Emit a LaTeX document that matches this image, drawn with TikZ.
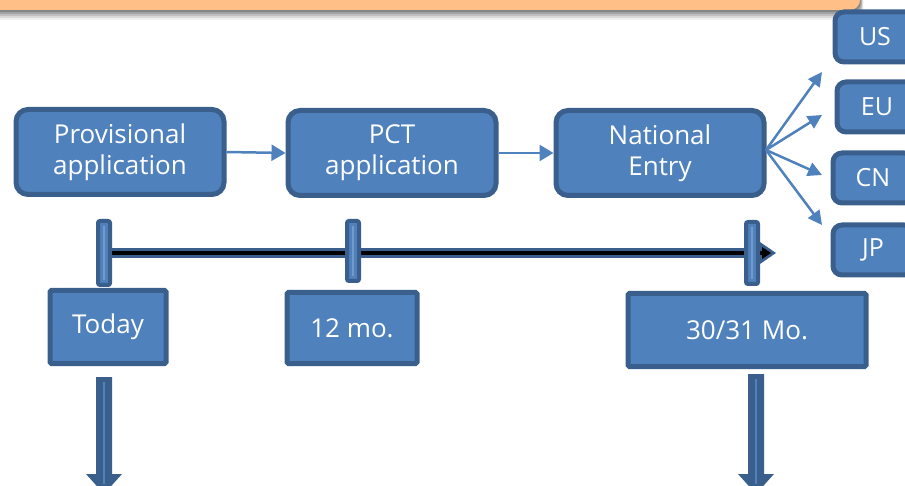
\documentclass[tikz,border=0pt]{standalone}
\usepackage{fontspec}
\setmainfont{Open Sans}
\usetikzlibrary{arrows.meta}
\definecolor{boxfill}{HTML}{4F81BD}
\definecolor{boxline}{HTML}{3A5F8C}
\definecolor{banner}{HTML}{FFBF87}
\tikzset{
  stagebox/.style={fill=boxfill,draw=boxline,line width=5pt,rounded corners=12pt,
    minimum width=208pt,minimum height=85pt,text=white,align=center,font=\fontsize{26}{31}\selectfont},
  countrybox/.style={fill=boxfill,draw=boxline,line width=5pt,rounded corners=9pt,
    minimum width=80pt,minimum height=50pt,text=white,font=\fontsize{25}{28}\selectfont},
  datebox/.style={fill=boxfill,draw=boxline,line width=5pt,rounded corners=1.5pt,
    text=white,font=\fontsize{26}{28}\selectfont},
  flow/.style={draw=boxfill,line width=2.5pt,-{Triangle[length=14pt,width=16pt]}},
  fan/.style={draw=boxfill,line width=2.5pt,-{Triangle[length=14pt,width=14pt]}},
  tick/.style={fill=boxfill,draw=boxline,line width=4pt,rounded corners=2pt},
}
\begin{document}
\begin{tikzpicture}[x=1pt,y=-1pt]
  \useasboundingbox (0,0) rectangle (905,486);
  % banner with shadow
  \foreach \s/\o in {10/0.06,8/0.1,6/0.12,4/0.15,2/0.18}
    \fill[black,opacity=\o,rounded corners=10pt] (-20,-30) rectangle (860+\s/3,10+\s);
  \fill[banner,rounded corners=10pt] (-20,-30) rectangle (860,10);
  % stages
  \node[stagebox] (prov) at (120,152) {Provisional\\application};
  \node[stagebox] (pct) at (392,153) {PCT\\application};
  \node[stagebox] (nat) at (660,153) {National\\Entry};
  \draw[flow] (prov.east) -- (pct.west);
  \draw[flow] (pct.east) -- (nat.west);
  % countries
  \node[countrybox] (us) at (875,37) {US};
  \node[countrybox] (eu) at (877,107) {EU};
  \node[countrybox] (cn) at (873,178) {CN};
  \node[countrybox] (jp) at (873,250) {JP};
  \coordinate (hub) at (766,150);
  \coordinate (tus) at (822,72);
  \coordinate (teu) at (822,115);
  \coordinate (tcn) at (822,175);
  \coordinate (tjp) at (822,225);
  \foreach \t in {tus,teu,tcn,tjp}
    \draw[fan] (hub) -- (\t);
  % timeline
  \coordinate (tl0) at (107,253);
  \coordinate (tl1) at (776,253);
  \draw[boxline,line width=10pt] (tl0) -- (760,253);
  \fill[boxline] (757,240) -- (tl1) -- (757,266) -- cycle;
  \draw[black,line width=4.5pt] (tl0) -- (766,253);
  \fill[black] (762,247) -- (771,253) -- (762,259) -- cycle;
  \foreach \x/\a/\b in {104/221/285,353/221/281,752/222/284} {
    \draw[tick] (\x-6,\a) rectangle (\x+6,\b);
    \draw[boxfill!80!white,line width=1.2pt] (\x,\a+5) -- (\x,\b-5);
  }
  % dates
  \node[datebox,minimum width=116pt,minimum height=73pt] (today) at (108,327) {Today};
  \node[datebox,minimum width=130pt,minimum height=71pt] (mo12) at (352,328) {12 mo.};
  \node[datebox,minimum width=238pt,minimum height=73pt] (mo30) at (747,330) {30/31 Mo.};
  % down arrows
  \foreach \x/\y/\n in {104/377/d1,756/374/d2} {
    \fill[boxline] (\x-8,\y) -- (\x+8,\y) -- (\x+8,474) -- (\x+18,474) -- (\x,494)
      -- (\x-18,474) -- (\x-8,474) -- cycle;
    \draw[boxfill,line width=2.5pt] (\x,\y+5) -- (\x,484);
  }
\end{tikzpicture}
\end{document}
